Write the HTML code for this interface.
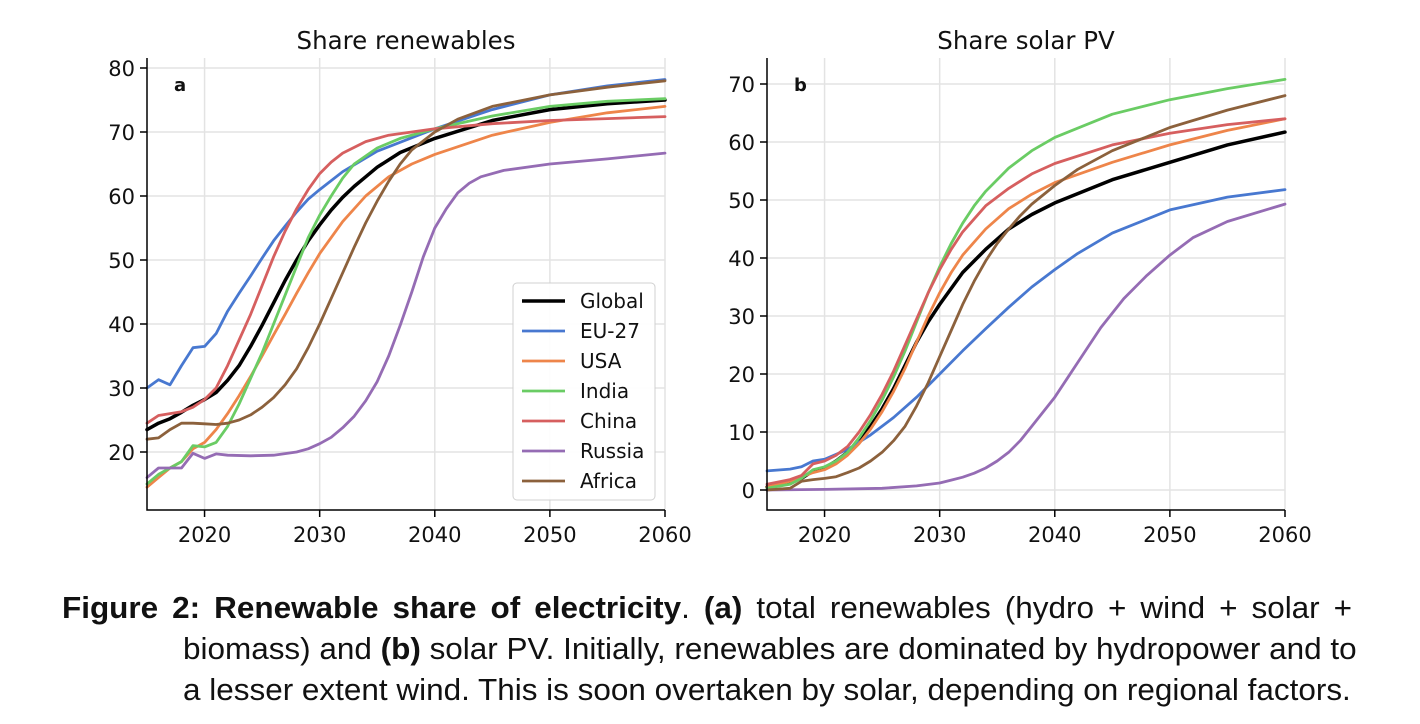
<!DOCTYPE html>
<html><head><meta charset="utf-8"><style>
body{margin:0;background:#fff;width:1420px;height:724px;overflow:hidden;font-family:"Liberation Sans","DejaVu Sans",sans-serif}
svg text{font-family:"DejaVu Sans","Liberation Sans",sans-serif}
.cap{position:absolute;font-family:"Liberation Sans",sans-serif;font-size:31px;line-height:36px;color:#111;white-space:nowrap;transform:scaleX(1.015);transform-origin:0 0}
</style></head><body>
<svg id="chart" width="1420" height="724" style="position:absolute;left:0;top:0"></svg>
<div class="cap" style="left:62px;top:590px;width:1271px;text-align:justify;text-align-last:justify"><b>Figure 2: Renewable share of electricity</b>. <b>(a)</b> total renewables (hydro + wind + solar +</div>
<div class="cap" style="left:183px;top:631px">biomass) and <b>(b)</b> solar PV. Initially, renewables are dominated by hydropower and to</div>
<div class="cap" style="left:183px;top:672px">a lesser extent wind. This is soon overtaken by solar, depending on regional factors.</div>
<script>
const seriesNames=["Global","EU-27","USA","India","China","Russia","Africa"];
const colors=["#000000","#4878d0","#ee854a","#6acc64","#d65f5f","#956cb4","#8c613c"];
const xTicks=[2020,2030,2040,2050,2060];
const yTicksA=[20,30,40,50,60,70,80];
const yTicksB=[0,10,20,30,40,50,60,70];
// panel a: [year, value]
const aGlobal=[[2015,23.5],[2016,24.5],[2017,25.2],[2018,26.2],[2019,27.3],[2020,28.2],[2021,29.3],[2022,31.2],[2023,33.5],[2024,36.5],[2025,39.8],[2026,43.3],[2027,46.8],[2028,50],[2029,53],[2030,55.5],[2031,57.8],[2032,59.8],[2033,61.5],[2034,63],[2035,64.5],[2037,66.8],[2040,69],[2045,71.8],[2050,73.5],[2055,74.4],[2060,75]];
const aEU=[[2015,30],[2016,31.3],[2017,30.5],[2018,33.5],[2019,36.3],[2020,36.5],[2021,38.5],[2022,42],[2023,44.8],[2024,47.5],[2025,50.3],[2026,53],[2027,55.3],[2028,57.5],[2029,59.5],[2030,61],[2032,63.8],[2035,67],[2040,70.5],[2045,73.5],[2050,75.8],[2055,77.2],[2060,78.2]];
const aUSA=[[2015,14.5],[2016,16],[2017,17.5],[2018,18.5],[2019,20.5],[2020,21.5],[2021,23.5],[2022,26],[2023,28.8],[2024,31.8],[2025,35],[2026,38.3],[2027,41.5],[2028,44.8],[2029,48],[2030,51],[2032,56],[2034,60],[2036,63],[2038,65],[2040,66.5],[2045,69.5],[2050,71.5],[2055,73],[2060,74]];
const aIndia=[[2015,15],[2016,16.5],[2017,17.5],[2018,18.5],[2019,21],[2020,20.8],[2021,21.5],[2022,24],[2023,27.5],[2024,31.5],[2025,35.5],[2026,40],[2027,44.5],[2028,49],[2029,53.5],[2030,57],[2031,60],[2032,62.8],[2033,65],[2035,67.5],[2037,69],[2040,70.5],[2045,72.5],[2050,74],[2055,74.8],[2060,75.2]];
const aChina=[[2015,24.5],[2016,25.7],[2017,26],[2018,26.3],[2019,27],[2020,28.2],[2021,30],[2022,33.5],[2023,37.5],[2024,41.5],[2025,46],[2026,50.5],[2027,54.5],[2028,58],[2029,61],[2030,63.5],[2031,65.3],[2032,66.7],[2034,68.5],[2036,69.5],[2040,70.5],[2045,71.3],[2050,71.8],[2055,72.1],[2060,72.4]];
const aRussia=[[2015,16],[2016,17.5],[2017,17.5],[2018,17.5],[2019,19.8],[2020,19],[2021,19.7],[2022,19.5],[2024,19.4],[2026,19.5],[2028,20],[2029,20.5],[2030,21.3],[2031,22.3],[2032,23.8],[2033,25.6],[2034,28],[2035,31],[2036,35],[2037,39.8],[2038,45],[2039,50.5],[2040,55],[2041,58],[2042,60.5],[2043,62],[2044,63],[2046,64],[2050,65],[2055,65.8],[2060,66.7]];
const aAfrica=[[2015,22],[2016,22.2],[2017,23.5],[2018,24.5],[2019,24.5],[2020,24.4],[2021,24.3],[2022,24.5],[2023,25],[2024,25.8],[2025,27],[2026,28.5],[2027,30.5],[2028,33],[2029,36.3],[2030,40],[2031,44],[2032,48],[2033,52],[2034,55.8],[2035,59.2],[2036,62.3],[2037,65],[2038,67.2],[2040,70],[2042,72],[2045,74],[2050,75.8],[2055,77],[2060,78]];
// panel b
const bGlobal=[[2015,0.5],[2018,2],[2019,3.3],[2020,3.8],[2021,5],[2022,6.5],[2023,8.5],[2024,11],[2025,14],[2026,17.5],[2027,21.5],[2028,25.5],[2029,29],[2030,32],[2032,37.5],[2034,41.5],[2036,45],[2038,47.5],[2040,49.5],[2045,53.5],[2050,56.5],[2055,59.5],[2060,61.7]];
const bEU=[[2015,3.3],[2017,3.6],[2018,4],[2019,5],[2020,5.3],[2022,7],[2024,9.5],[2026,12.5],[2028,16],[2030,20],[2032,24],[2034,27.8],[2036,31.5],[2038,35],[2040,38],[2042,40.8],[2045,44.3],[2050,48.3],[2055,50.5],[2060,51.8]];
const bUSA=[[2015,0.5],[2017,1.5],[2019,3],[2020,3.5],[2021,4.5],[2022,6],[2023,8],[2024,10.5],[2025,13.5],[2026,17],[2027,21],[2028,25.5],[2029,30],[2030,34],[2031,37.5],[2032,40.5],[2034,45],[2036,48.5],[2038,51],[2040,53],[2045,56.5],[2050,59.5],[2055,62],[2060,64]];
const bIndia=[[2015,0.3],[2017,1],[2018,2],[2019,3.5],[2020,4],[2021,5],[2022,6.5],[2023,9],[2024,12],[2025,15.5],[2026,19.5],[2027,24],[2028,29],[2029,34],[2030,38.5],[2031,42.5],[2032,46],[2033,49],[2034,51.5],[2036,55.5],[2038,58.5],[2040,60.8],[2045,64.8],[2050,67.3],[2055,69.2],[2060,70.8]];
const bChina=[[2015,1],[2017,1.8],[2018,2.5],[2019,4.5],[2020,5],[2021,6],[2022,7.5],[2023,10],[2024,13],[2025,16.5],[2026,20.5],[2027,25],[2028,29.5],[2029,34],[2030,38],[2031,41.5],[2032,44.5],[2034,49],[2036,52],[2038,54.5],[2040,56.3],[2045,59.5],[2050,61.5],[2055,63],[2060,64]];
const bRussia=[[2015,0],[2020,0.1],[2025,0.3],[2028,0.7],[2030,1.2],[2031,1.7],[2032,2.2],[2033,2.9],[2034,3.8],[2035,5],[2036,6.5],[2037,8.5],[2038,11],[2039,13.5],[2040,16],[2041,19],[2042,22],[2044,28],[2046,33],[2048,37],[2050,40.5],[2052,43.5],[2055,46.3],[2060,49.3]];
const bAfrica=[[2015,0],[2017,0.3],[2018,1.5],[2019,1.8],[2020,2],[2021,2.3],[2022,3],[2023,3.8],[2024,5],[2025,6.5],[2026,8.5],[2027,11],[2028,14.5],[2029,18.5],[2030,23],[2031,27.5],[2032,32],[2033,36],[2034,39.5],[2035,42.5],[2036,45],[2037,47.3],[2038,49.3],[2040,52.5],[2042,55.3],[2045,58.5],[2050,62.5],[2055,65.5],[2060,68]];

const NS="http://www.w3.org/2000/svg";
const svg=document.getElementById('chart');
function mk(tag,attrs,parent,text){const e=document.createElementNS(NS,tag);for(const k in attrs)e.setAttribute(k,attrs[k]);if(text!=null)e.textContent=text;(parent||svg).appendChild(e);return e;}

function panel(cfg){
  const g=mk('g',{});
  
  
  const xs=v=>cfg.x0+(v-2015)*(cfg.x1-cfg.x0)/45;
  const ys=v=>cfg.yRef0+(v-cfg.vRef0)*(cfg.yRef1-cfg.yRef0)/(cfg.vRef1-cfg.vRef0);
  xTicks.forEach(t=>{const l=mk('line',{x1:xs(t),x2:xs(t),y1:cfg.top,y2:cfg.bottom,stroke:'#e3e3e3','stroke-width':1.5},g);
    });
  cfg.yTicks.forEach(t=>{const l=mk('line',{x1:cfg.x0,x2:cfg.x1,y1:ys(t),y2:ys(t),stroke:'#e3e3e3','stroke-width':1.5},g);
    });
  cfg.series.forEach((d,i)=>{
    const p=mk('polyline',{points:d.map(q=>xs(q[0]).toFixed(1)+','+ys(q[1]).toFixed(1)).join(' '),fill:'none',stroke:colors[i],'stroke-width':i==0?3.5:2.8,'stroke-linejoin':'round','stroke-linecap':'round'},g);
    
    
  });
  const ax=mk('path',{d:`M${cfg.x0},${cfg.top}V${cfg.bottom}H${cfg.x1}`,fill:'none',stroke:'#000','stroke-width':1.5},g);
  
  xTicks.forEach(t=>{mk('line',{x1:xs(t),x2:xs(t),y1:cfg.bottom,y2:cfg.bottom+7,stroke:'#000','stroke-width':1.5},g);
    const tx=mk('text',{x:xs(t),y:cfg.bottom+32,'text-anchor':'middle','font-size':21,fill:'#111'},g,t);
    });
  cfg.yTicks.forEach(t=>{mk('line',{x1:cfg.x0-7,x2:cfg.x0,y1:ys(t),y2:ys(t),stroke:'#000','stroke-width':1.5},g);
    const tx=mk('text',{x:cfg.x0-12,y:ys(t)+8,'text-anchor':'end','font-size':21,fill:'#111'},g,t);
    });
  const ti=mk('text',{x:(cfg.x0+cfg.x1)/2,y:49,'text-anchor':'middle','font-size':24.5,fill:'#111'},g,cfg.title);
  
  const lb=mk('text',{x:cfg.x0+27,y:91,'font-size':18,'font-weight':'bold',fill:'#111'},g,cfg.label);
  
}
panel({name:'panel-a',title:'Share renewables',label:'a',x0:147,x1:665,top:58,bottom:510,yRef0:452,vRef0:20,yRef1:68,vRef1:80,yTicks:yTicksA,
  series:[aGlobal,aEU,aUSA,aIndia,aChina,aRussia,aAfrica]});
panel({name:'panel-b',title:'Share solar PV',label:'b',x0:767,x1:1285,top:58,bottom:510,yRef0:490,vRef0:0,yRef1:84,vRef1:70,yTicks:yTicksB,
  series:[bGlobal,bEU,bUSA,bIndia,bChina,bRussia,bAfrica]});
const lg=mk('g',{});


mk('rect',{x:513,y:283,width:142,height:217,rx:4,fill:'#fff','fill-opacity':0.9,stroke:'#d0d0d0'},lg);
seriesNames.forEach((n,i)=>{
  const y=301+i*30;
  const e=mk('g',{},lg);
  
  
  mk('line',{x1:522,x2:565,y1:y,y2:y,stroke:colors[i],'stroke-width':i==0?3.5:2.8},e);
  mk('text',{x:580,y:y+7,'font-size':20,fill:'#111'},e,n);
});
</script>
</body></html>
